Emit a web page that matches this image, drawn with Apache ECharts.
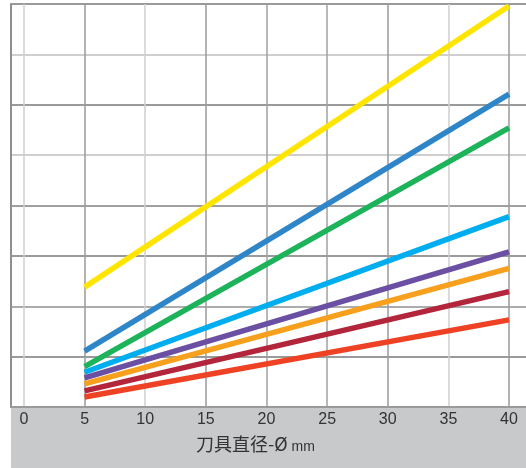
<!DOCTYPE html>
<html>
<head>
<meta charset="utf-8">
<script src="https://cdn.jsdelivr.net/npm/echarts@6/dist/echarts.min.js"></script>
<style>
  html, body { margin: 0; padding: 0; background: #fff; }
  #chart { width: 526px; height: 468px; }
</style>
</head>
<body>
<div id="chart"></div>
<script>
// diameter ticks and sample points
const xTicks = [0, 5, 10, 15, 20, 25, 30, 35, 40]
const diameters = [5, 40]

// values (y grid = 8 equal steps)
const yellowVals = [2.38, 7.96]
const blueVals = [1.11, 6.21]
const greenVals = [0.80, 5.54]
const cyanVals = [0.69, 3.78]
const purpleVals = [0.58, 3.08]
const orangeVals = [0.46, 2.75]
const darkRedVals = [0.32, 2.29]
const redVals = [0.20, 1.73]

const seriesDefs = [
  { name: 'yellow', data: yellowVals, color: '#ffe500' },
  { name: 'blue', data: blueVals, color: '#2e86c8' },
  { name: 'green', data: greenVals, color: '#1db35a' },
  { name: 'cyan', data: cyanVals, color: '#00aeef' },
  { name: 'purple', data: purpleVals, color: '#6a4fa3' },
  { name: 'orange', data: orangeVals, color: '#f7a01e' },
  { name: 'darkred', data: darkRedVals, color: '#b3253a' },
  { name: 'red', data: redVals, color: '#ef4123' }
]

const chart = echarts.init(document.getElementById('chart'))

chart.setOption({
  animation: false,
  backgroundColor: '#fff',
  graphic: [{
    type: 'rect',
    left: 11, top: 408,
    shape: { width: 515, height: 60 },
    style: { fill: '#c8c9cb' },
    z: -1
  }],
  grid: { left: 11, right: 0, top: 4, bottom: 61 },
  xAxis: {
    type: 'value',
    min: -1.07, max: 41.4,
    axisLine: { show: true, lineStyle: { color: '#9a9a9a', width: 2 } },
    axisTick: { show: false, customValues: xTicks },
    axisLabel: {
      customValues: xTicks, margin: 5,
      color: '#333', fontSize: 16, fontFamily: 'Liberation Sans, Arial, sans-serif'
    },
    splitLine: {
      show: true,
      lineStyle: {
        width: 1.5,
        color: ['#cfcfcf', '#9a9a9a', '#cfcfcf', '#9a9a9a', '#a0a0a0', '#a0a0a0', '#9a9a9a', '#cfcfcf', '#9a9a9a']
      }
    },
    name: '{a|刀具直径-Ø}{b| mm}',
    nameLocation: 'middle',
    nameGap: 28,
    nameTextStyle: {
      padding: [0, 26, 0, 0],
      rich: {
        a: { fontSize: 18, color: '#333', fontFamily: 'Noto Sans CJK SC, sans-serif' },
        b: { fontSize: 14, padding: [5, 0, 0, 0], color: '#333', fontFamily: 'Liberation Sans, Arial, sans-serif' }
      }
    }
  },
  yAxis: {
    type: 'value',
    min: 0, max: 8, interval: 1,
    axisLine: { show: true, onZero: false, lineStyle: { color: '#8f8f8f', width: 2 } },
    axisTick: { show: false },
    axisLabel: { show: false },
    splitLine: {
      show: true,
      lineStyle: {
        width: 2,
        color: ['#9a9a9a', '#9a9a9a', '#acacac', '#9a9a9a', '#a0a0a0', '#cfcfcf', '#9a9a9a', '#cfcfcf', '#9a9a9a']
      }
    }
  },
  series: seriesDefs.map(s => ({
    name: s.name,
    type: 'line',
    symbol: 'none',
    data: diameters.map((d, i) => [d, s.data[i]]),
    lineStyle: { width: 5.5, color: s.color, cap: 'butt' },
    z: 3
  }))
})
</script>
</body>
</html>
